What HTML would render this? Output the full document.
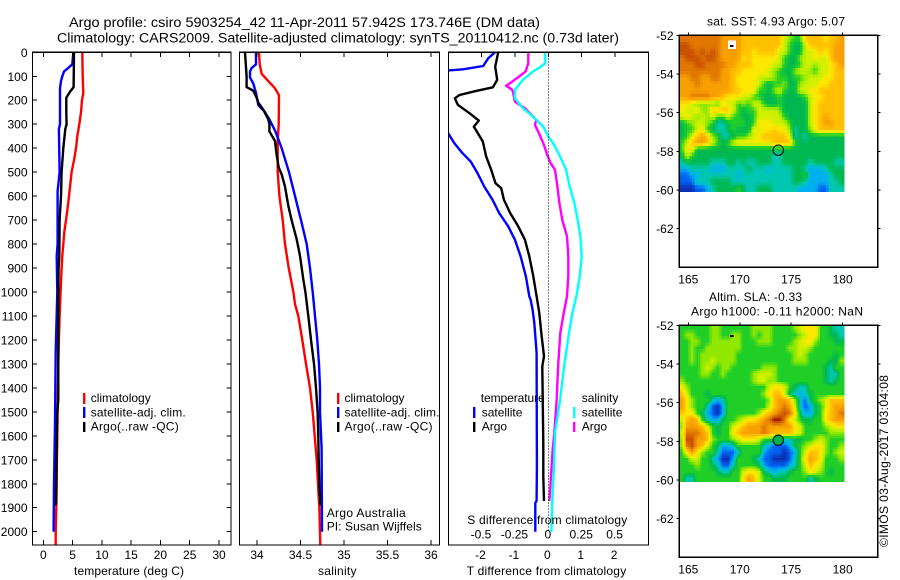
<!DOCTYPE html>
<html lang="en">
<head>
<meta charset="utf-8">
<title>Argo profile csiro 5903254_42</title>
<style>
html,body{margin:0;padding:0;background:#fff;}
svg{display:block;}
text{font-family:"Liberation Sans",sans-serif;font-size:12px;fill:#000;}
</style>
</head>
<body>
<svg id="chart" xmlns="http://www.w3.org/2000/svg" width="900" height="580" viewBox="0 0 900 580">
<defs>
<clipPath id="clip-temp"><rect x="32.5" y="52.3" width="198.5" height="492.7"/></clipPath>
<clipPath id="clip-sal"><rect x="239.5" y="52.3" width="200" height="492.7"/></clipPath>
<clipPath id="clip-diff"><rect x="448.5" y="52.3" width="200" height="492.7"/></clipPath>
</defs>
<text x="69" y="27" style="font-size:13.4px" textLength="471" lengthAdjust="spacingAndGlyphs">Argo profile: csiro 5903254_42 11-Apr-2011 57.942S 173.746E (DM data)</text>
<text x="57" y="42.5" style="font-size:13.4px" textLength="562" lengthAdjust="spacingAndGlyphs">Climatology: CARS2009. Satellite-adjusted climatology: synTS_20110412.nc (0.73d later)</text>
<g id="plots"></g>
<g id="maps"></g>

<text x="74" y="575" textLength="110">temperature (deg C)</text>
<text x="318" y="575" textLength="38.5">salinity</text>
<text x="466.7" y="575" textLength="159.5">T difference from climatology</text>
<text x="467.3" y="524" textLength="160">S difference from climatology</text>

<g>
<rect x="83" y="393" width="2.4" height="11" fill="#ff0000"/>
<rect x="83" y="407" width="2.4" height="11" fill="#0000ff"/>
<rect x="83" y="422" width="2.4" height="10" fill="#000"/>
<text x="90.7" y="402">climatology</text>
<text x="90.7" y="416.5" textLength="95">satellite-adj. clim.</text>
<text x="90.7" y="430.7" textLength="88">Argo(..raw -QC)</text>
</g>
<g>
<rect x="337" y="393" width="2.4" height="11" fill="#ff0000"/>
<rect x="337" y="407" width="2.4" height="11" fill="#0000ff"/>
<rect x="337" y="422" width="2.4" height="10" fill="#000"/>
<text x="344.5" y="402">climatology</text>
<text x="344.5" y="416.5" textLength="95">satellite-adj. clim.</text>
<text x="344.5" y="430.7" textLength="88">Argo(..raw -QC)</text>
<text x="326.7" y="517" textLength="79">Argo Australia</text>
<text x="326.7" y="530.7" textLength="95">PI: Susan Wijffels</text>
</g>
<g>
<rect x="473" y="407" width="2.4" height="11" fill="#0000ff"/>
<rect x="473" y="422" width="2.4" height="10" fill="#000"/>
<rect x="573" y="407" width="2.4" height="11" fill="#00ffff"/>
<rect x="573" y="422" width="2.4" height="10" fill="#ff00ff"/>
<text x="480.7" y="402" textLength="64">temperature</text>
<text x="481.7" y="416.5">satellite</text>
<text x="481.7" y="430.7">Argo</text>
<text x="581.7" y="402">salinity</text>
<text x="581.7" y="416.5">satellite</text>
<text x="581.7" y="430.7">Argo</text>
</g>

<text x="707" y="25.7" textLength="138">sat. SST: 4.93 Argo: 5.07</text>
<text x="709" y="301" textLength="93">Altim. SLA: -0.33</text>
<text x="691" y="315.5" textLength="172">Argo h1000: -0.11 h2000: NaN</text>
<text transform="translate(888,547) rotate(-90)" x="0" y="0" textLength="172">©IMOS 03-Aug-2017 03:04:08</text>
</svg>

<script>
// ---------- profile data (depth in dbar, values in physical units) ----------
const tempClimDepth = [0,100,170,200,250,300,350,400,450,500,550,600,650,700,750,800,850,900,1000,1100,1200,1300,1400,1500,1600,1700,1800,1900,2000,2054];
const tempClimValue = [6.66,6.72,6.83,6.60,6.43,6.15,5.80,5.58,5.24,4.84,4.61,4.38,4.15,3.87,3.59,3.41,3.24,3.13,2.96,2.79,2.67,2.56,2.50,2.45,2.39,2.33,2.28,2.22,2.11,2.11];
const tempSatDepth = [0,50,65,80,100,120,150,300,320,500,580,800,850,1000,1250,1550,1800,2000];
const tempSatValue = [5.12,4.95,4.27,3.53,3.24,3.02,2.85,2.85,2.67,2.79,2.45,2.45,2.28,2.39,2.11,1.99,1.82,1.76];
const tempArgoDepth = [0,145,165,190,250,300,320,400,500,600,700,850,900,1000,1100,1450,1500,1650,1890];
const tempArgoValue = [5.24,5.18,4.55,3.93,3.93,3.98,3.76,3.41,3.13,3.02,2.79,2.73,2.62,2.56,2.56,2.56,2.39,2.28,2.16];

const salClimDepth = [0,50,90,120,150,180,300,370,500,600,700,800,900,1000,1050,1100,1200,1300,1400,1500,1600,1700,1800,1900,2054];
const salClimValue = [34.023,34.031,34.054,34.13,34.207,34.253,34.249,34.238,34.238,34.257,34.295,34.322,34.364,34.418,34.437,34.475,34.521,34.563,34.609,34.64,34.663,34.686,34.701,34.716,34.728];
const salSatDepth = [0,50,65,80,105,130,170,220,250,280,330,400,500,600,700,800,900,1000,1100,1200,1300,1400,1500,1650,2000];
const salSatValue = [33.989,33.989,33.939,33.92,33.92,33.958,33.989,34.015,34.092,34.142,34.211,34.284,34.368,34.437,34.506,34.571,34.609,34.64,34.667,34.693,34.713,34.724,34.724,34.743,34.747];
const salArgoDepth = [0,100,145,160,190,210,240,280,300,330,370,430,480,510,560,640,700,780,850,950,1000,1100,1200,1300,1400,1500,1600,1700,1800,1890];
const salArgoValue = [33.862,33.881,33.881,33.958,33.996,34.015,34.073,34.13,34.142,34.142,34.207,34.226,34.249,34.284,34.322,34.36,34.398,34.456,34.494,34.533,34.556,34.59,34.621,34.655,34.678,34.697,34.705,34.709,34.716,34.728];

const diffTSatDepth = [0,25,57,71,76,90,150,250,337,378,421,456,504,560,615,671,726,782,851,935,1018,1032,1074,1129,1254,1726,1872,1879,2000];
const diffTSatValue = [-1.6,-1.8,-1.95,-2.55,-3.0,-3.3,-3.9,-3.7,-3.0,-2.82,-2.57,-2.32,-2.12,-1.92,-1.67,-1.47,-1.2,-1.0,-0.83,-0.67,-0.57,-0.53,-0.47,-0.42,-0.35,-0.34,-0.35,-0.39,-0.39];
const diffTArgoDepth = [0,60,115,146,161,178,192,219,254,285,310,337,372,435,490,546,567,615,671,726,782,851,935,1018,1088,1171,1268,1310,1629,1768,1872];
const diffTArgoValue = [-1.5,-1.59,-1.53,-1.66,-2.16,-2.66,-2.8,-2.71,-2.36,-2.08,-2.23,-2.11,-1.96,-1.86,-1.71,-1.58,-1.41,-1.33,-1.14,-0.9,-0.7,-0.57,-0.45,-0.35,-0.27,-0.21,-0.13,-0.18,-0.15,-0.15,-0.13];
const diffSArgoDepth = [0,46,80,108,140,154,164,206,233,268,282,303,337,386,428,463,490,560,629,699,768,851,935,1018,1088,1171,1310,1449,1588,1657,1726,1872];
const diffSArgoValue = [-0.15,-0.15,-0.17,-0.235,-0.315,-0.275,-0.265,-0.25,-0.175,-0.115,-0.09,-0.1,-0.07,-0.033,-0.008,0.018,0.05,0.068,0.083,0.105,0.14,0.15,0.15,0.14,0.115,0.09,0.073,0.063,0.045,0.033,0.025,0.008];
const diffSSatDepth = [0,46,67,80,115,157,192,233,268,310,351,386,435,490,560,629,699,768,851,935,1018,1088,1171,1310,1449,1588,1726,1872,2000];
const diffSSatValue = [-0.025,-0.023,-0.075,-0.115,-0.19,-0.25,-0.25,-0.19,-0.115,-0.038,0,0.043,0.088,0.133,0.16,0.195,0.22,0.24,0.25,0.235,0.21,0.18,0.155,0.118,0.088,0.05,0.043,0.03,0.023];

// ---------- tick labels ----------
const depthTicks = [0,100,200,300,400,500,600,700,800,900,1000,1100,1200,1300,1400,1500,1600,1700,1800,1900,2000];
const tempTicks = [0,5,10,15,20,25,30];
const salTicks = [34,34.5,35,35.5,36];
const salTickLabels = ["34","34.5","35","35.5","36"];
const diffTTicks = [-2,-1,0,1,2];
const diffSTicks = [-0.5,-0.25,0,0.25,0.5];
const diffSTickLabels = ["-0.5","-0.25","0","0.25","0.5"];
const lonTicks = [165,170,175,180];
const latTicks = [-52,-54,-56,-58,-60,-62];
const argoLon = [173.746];
const argoLat = [-57.942];
const islandLon = [169.25];
const islandLat = [-52.55];

// ---------- map grids: colour-class level per cell, north to south, 0.5 deg columns ----------
const sstLevels = [
[11,11,11,11,11,11,11,11,10,10,10,10,9,9,9,9,9,9,9,9,7,6,5,5,9,9,9,9,8,9,9,10],
[12,12,11,11,11,11,11,11,10,10,10,10,9,9,9,9,9,9,9,9,7,5,4,4,7,9,9,9,9,9,10,10],
[12,12,12,11,12,11,12,11,10,10,10,10,9,9,8,9,9,9,9,7,7,5,4,4,7,7,8,9,8,9,10,10],
[11,12,12,12,11,12,12,11,10,10,10,10,8,9,8,8,8,8,8,7,5,4,4,6,7,7,8,7,7,9,10,10],
[11,11,11,12,12,11,11,11,11,10,10,9,9,9,8,8,8,8,7,7,5,4,4,5,7,7,6,7,7,8,9,10],
[11,11,11,11,11,11,11,11,10,10,9,9,8,8,8,8,8,7,6,5,4,4,6,7,7,6,5,7,7,8,9,9],
[10,10,11,11,10,10,11,11,10,10,9,8,8,8,8,7,7,7,6,5,5,4,5,5,6,7,7,7,8,8,9,9],
[10,10,10,11,10,10,10,10,10,10,9,8,8,8,8,7,5,4,5,5,6,4,4,6,7,7,7,8,8,9,9,9],
[10,10,10,10,10,10,10,10,10,10,9,9,8,8,8,5,5,4,6,7,5,4,4,7,7,8,8,9,9,9,9,9],
[10,10,11,11,11,11,10,10,9,8,8,8,7,7,5,5,4,4,4,5,4,4,4,4,5,7,8,8,9,9,9,9],
[8,8,7,6,6,6,6,5,8,7,7,5,6,5,7,7,5,4,4,5,4,4,4,4,4,7,8,9,9,9,9,9],
[8,7,7,8,6,6,9,9,9,9,7,5,4,5,5,7,7,7,7,6,4,4,4,4,4,7,8,9,9,9,9,9],
[7,8,7,6,7,6,7,5,5,7,5,5,4,4,5,7,7,7,7,7,5,4,4,4,4,7,8,9,10,9,9,9],
[4,5,6,7,7,6,5,3,3,4,5,5,5,4,5,8,8,8,7,7,7,5,4,4,4,7,8,9,10,10,9,9],
[4,5,5,7,8,5,4,3,3,4,5,4,4,4,8,7,8,8,9,8,8,6,3,4,4,6,8,9,9,9,9,9],
[4,5,7,9,10,9,6,5,3,3,4,5,5,6,7,8,9,9,9,9,9,7,3,4,3,4,4,4,4,4,4,4],
[5,7,9,10,10,9,7,5,4,5,7,8,8,8,8,8,8,8,9,9,9,9,5,4,4,4,4,4,4,4,4,4],
[5,8,8,4,4,4,4,4,4,4,4,4,4,4,4,4,4,4,4,4,4,4,4,4,4,4,4,4,4,4,4,4],
[4,7,5,4,4,4,4,4,4,4,4,4,4,4,4,4,4,4,3,3,4,4,4,4,4,4,4,4,4,4,4,4],
[3,4,4,4,4,4,3,3,3,4,4,3,4,3,3,4,4,4,3,3,4,4,4,4,4,3,4,4,4,4,3,3],
[2,2,3,3,3,3,2,2,2,3,3,3,3,4,3,3,3,2,3,3,3,3,4,4,3,2,2,2,3,4,4,4],
[1,1,2,2,3,3,3,3,3,3,3,2,3,3,3,3,3,3,3,3,3,3,4,4,5,2,2,2,2,3,4,4],
[1,1,1,3,3,3,4,4,4,4,3,3,3,3,3,3,3,3,3,3,3,3,4,4,3,2,2,2,2,3,3,4],
[0,0,0,1,1,2,3,4,4,4,4,5,4,3,3,4,4,4,3,3,3,3,3,2,2,2,2,1,1,3,3,3]
];
const slaLevels = [
[5,5,5,5,5,5,6,6,5,5,5,5,5,5,6,6,6,6,5,5,5,5,6,7,8,8,8,5,5,4,3,3],
[5,6,6,5,5,5,6,6,5,5,6,6,5,5,6,5,6,6,5,5,5,5,5,6,7,8,8,5,5,4,4,3],
[5,5,6,6,5,5,6,6,6,6,6,6,5,5,5,6,6,6,5,5,5,5,6,7,8,8,6,5,5,5,4,4],
[5,5,6,5,5,6,6,6,6,6,6,6,5,5,5,5,5,5,5,5,5,6,6,7,7,6,5,5,5,5,5,5],
[5,5,6,5,6,6,6,6,6,6,6,5,5,5,5,5,5,5,5,5,5,5,6,7,6,5,5,5,5,5,4,5],
[5,5,6,5,6,6,7,6,6,6,6,5,5,5,5,5,5,5,5,5,5,5,6,6,6,5,5,5,5,4,4,6],
[5,5,5,5,6,7,6,5,6,6,5,5,5,5,5,5,6,6,6,5,5,5,5,5,5,5,5,5,4,3,5,5],
[5,5,5,5,6,6,5,5,6,5,5,5,5,5,6,7,7,7,6,5,5,5,5,5,5,5,5,5,4,3,3,5],
[6,5,5,5,5,5,5,5,5,5,5,5,5,5,6,7,7,6,6,5,5,5,5,5,5,5,5,5,4,3,4,5],
[8,6,5,5,5,5,5,5,5,5,5,5,5,5,5,5,5,7,8,8,7,5,4,3,3,5,5,5,5,5,5,5],
[9,7,5,5,5,4,5,5,5,5,5,5,5,5,5,5,6,8,9,9,7,4,3,2,3,4,5,5,5,5,5,5],
[10,8,6,5,5,5,3,2,3,5,5,5,5,5,5,5,5,6,9,10,10,9,6,3,1,4,5,6,7,9,9,9],
[10,8,6,5,5,3,1,0,2,5,5,5,5,5,5,5,5,7,9,10,11,10,7,3,1,2,4,5,7,9,10,10],
[9,8,8,5,4,2,1,0,2,5,5,5,5,5,5,6,8,9,10,11,12,11,8,4,2,2,4,5,8,9,10,11],
[7,9,10,9,5,3,2,2,4,5,5,6,7,8,8,9,10,11,13,13,11,8,7,5,4,4,5,5,8,9,10,10],
[6,10,10,10,9,7,5,4,5,5,7,8,9,10,10,10,11,10,10,10,10,10,8,7,5,5,5,5,6,7,8,8],
[7,11,11,11,10,9,5,4,5,5,8,9,10,10,10,10,11,10,9,9,9,9,8,7,5,5,5,5,5,6,6,6],
[6,12,12,10,10,9,6,5,5,5,6,7,8,8,8,7,5,5,5,4,3,3,4,4,5,5,6,7,6,5,5,5],
[6,11,12,10,9,7,5,4,2,2,3,5,5,5,5,5,3,2,1,1,1,2,4,5,6,7,8,8,6,5,5,6],
[5,8,10,8,6,5,5,3,1,1,1,3,5,5,5,5,2,1,1,1,0,1,2,5,7,9,9,8,6,5,6,7],
[5,5,7,7,5,5,3,2,0,0,2,5,5,5,4,3,1,1,0,0,0,1,3,5,8,10,9,8,5,5,5,6],
[5,5,5,6,5,5,4,3,1,1,3,5,5,5,5,4,2,1,1,1,1,2,3,5,7,9,8,7,5,5,5,5],
[5,5,5,5,5,5,5,4,3,3,5,5,7,8,8,7,4,3,2,3,3,4,5,5,6,8,7,6,5,4,5,5],
[5,3,3,5,5,5,5,5,5,5,5,5,8,10,9,7,5,5,4,4,4,5,5,5,5,3,4,5,5,5,5,5]
];

// ---------- style / scale helpers ----------
const NS = "http://www.w3.org/2000/svg";
const levelRGB = [[10,47,176],[0,96,240],[0,176,240],[0,200,176],[0,184,80],[32,206,40],[144,232,0],[208,240,0],[255,232,0],[255,192,0],[248,160,0],[224,120,0],[200,80,0],[160,32,0]];
const plots = document.getElementById("plots");
const maps = document.getElementById("maps");

function depthY(d){ return 52.3 + d * 0.2397; }
function tempX(t){ return 43.3 + t * 5.857; }
function salX(s){ return 257 + (s - 34) * 87; }
function diffTX(t){ return 548.3 + t * 33.4; }
function diffSX(s){ return 548.3 + s * 133.6; }
function lonX(lon){ return 688.3 + (lon - 165) * 10.29; }

function levelColour(v){
  const lo = Math.max(0, Math.min(levelRGB.length - 2, Math.floor(v)));
  const t = Math.max(0, Math.min(1, v - lo));
  const a = levelRGB[lo], b = levelRGB[lo + 1];
  return "rgb(" + Math.round(a[0] + (b[0] - a[0]) * t) + "," + Math.round(a[1] + (b[1] - a[1]) * t) + "," + Math.round(a[2] + (b[2] - a[2]) * t) + ")";
}
function sampleGrid(grid, rf, cf){
  const rMax = grid.length - 1, cMax = grid[0].length - 1;
  const r = Math.max(0, Math.min(rMax, rf)), c = Math.max(0, Math.min(cMax, cf));
  const r0 = Math.floor(r), c0 = Math.floor(c);
  const r1 = Math.min(rMax, r0 + 1), c1 = Math.min(cMax, c0 + 1);
  const u = c - c0, v = r - r0;
  return (grid[r0][c0] * (1 - u) + grid[r0][c1] * u) * (1 - v) + (grid[r1][c0] * (1 - u) + grid[r1][c1] * u) * v;
}

function makeEl(tag, parent, attrs){
  const el = document.createElementNS(NS, tag);
  for (const k in attrs) el.setAttribute(k, attrs[k]);
  parent.appendChild(el);
  return el;
}

function drawBox(parent, x, y, w, h){
  const el = makeEl("rect", parent, {x:x, y:y, width:w, height:h, fill:"none", stroke:"#000", "stroke-width":1.2, "shape-rendering":"crispEdges"});
  
  
}
function drawTick(parent, x1, y1, x2, y2){
  const el = makeEl("line", parent, {x1:x1, y1:y1, x2:x2, y2:y2, stroke:"#000", "stroke-width":1, "shape-rendering":"crispEdges"});
  
  
}
function drawLabel(parent, x, y, anchor, str){
  const el = makeEl("text", parent, {x:x, y:y, "text-anchor":anchor});
  
  
  el.textContent = str;
}
function drawProfile(parent, seriesName, depths, values, xFn, colour, width, clip){
  const pts = depths.map(function(d, i){ return xFn(values[i]).toFixed(1) + "," + depthY(d).toFixed(1); }).join(" ");
  const el = makeEl("polyline", parent, {points:pts, fill:"none", stroke:colour, "stroke-width":width, "stroke-linejoin":"round", "clip-path":"url(#" + clip + ")"});
  
  
}

// ---------- profile panels ----------
drawProfile(plots, 'temperature-climatology-line', tempClimDepth, tempClimValue, tempX, "#ff0000", 2.4, "clip-temp");
drawProfile(plots, 'temperature-satellite-line', tempSatDepth, tempSatValue, tempX, "#0000ff", 2.4, "clip-temp");
drawProfile(plots, 'temperature-argo-line', tempArgoDepth, tempArgoValue, tempX, "#000000", 2.4, "clip-temp");

drawProfile(plots, 'salinity-climatology-line', salClimDepth, salClimValue, salX, "#ff0000", 2.4, "clip-sal");
drawProfile(plots, 'salinity-satellite-line', salSatDepth, salSatValue, salX, "#0000ff", 2.4, "clip-sal");
drawProfile(plots, 'salinity-argo-line', salArgoDepth, salArgoValue, salX, "#000000", 2.4, "clip-sal");

drawProfile(plots, 't-difference-satellite-line', diffTSatDepth, diffTSatValue, diffTX, "#0000ff", 2.4, "clip-diff");
drawProfile(plots, 't-difference-argo-line', diffTArgoDepth, diffTArgoValue, diffTX, "#000000", 2.4, "clip-diff");
drawProfile(plots, 's-difference-argo-line', diffSArgoDepth, diffSArgoValue, diffSX, "#ff00ff", 2.4, "clip-diff");
drawProfile(plots, 's-difference-satellite-line', diffSSatDepth, diffSSatValue, diffSX, "#00ffff", 2.4, "clip-diff");

const zeroLine = makeEl("line", plots, {x1:diffTX(0), y1:52.3, x2:diffTX(0), y2:532, stroke:"#000", "stroke-width":1, "stroke-dasharray":"1 2", "shape-rendering":"crispEdges"});



drawBox(plots, 32.5, 52.3, 198.5, 492.7);
drawBox(plots, 239.5, 52.3, 200, 492.7);
drawBox(plots, 448.5, 52.3, 200, 492.7);

depthTicks.forEach(function(d){
  const y = depthY(d);
  drawTick(plots, 32.5, y, 37, y);
  drawTick(plots, 226.5, y, 231, y);
  drawLabel(plots, 27.5, y + 4.5, "end", String(d));
});
tempTicks.forEach(function(t){
  const x = tempX(t);
  drawTick(plots, x, 52.3, x, 57);
  drawTick(plots, x, 540, x, 545);
  drawLabel(plots, x, 559, "middle", String(t));
});
salTicks.forEach(function(s, i){
  const x = salX(s);
  drawTick(plots, x, 52.3, x, 57);
  drawTick(plots, x, 540, x, 545);
  drawLabel(plots, x, 559, "middle", salTickLabels[i]);
});
diffTTicks.forEach(function(t){
  const x = diffTX(t);
  drawTick(plots, x, 52.3, x, 57);
  drawLabel(plots, x - 1, 559, "middle", String(t));
});
diffSTicks.forEach(function(s, i){
  drawLabel(plots, diffSX(s) - 0.5, 538.3, "middle", diffSTickLabels[i]);
});

// ---------- maps ----------
function drawMap(top, levels, markerFill, sub){
  const latY = function(lat){ return top + (-52 - lat) * 19.34; };
  const rowStep = 8.09 / levels.length;
  const colStep = 0.5;
  const rows = levels.length, cols = levels[0].length;
  for (let r = 0; r < rows * sub; r++){
    for (let c = 0; c < cols * sub; c++){
      const lonW = 164.12 + (c / sub) * colStep;
      const latN = -52 - (r / sub) * rowStep;
      const x0 = lonX(lonW), x1 = lonX(lonW + colStep / sub);
      const y0 = latY(latN), y1 = latY(latN - rowStep / sub);
      const level = sampleGrid(levels, (r + 0.5) / sub - 0.5, (c + 0.5) / sub - 0.5);
      const cell = makeEl("rect", maps, {x:x0, y:y0, width:x1 - x0 + 0.4, height:y1 - y0 + 0.4, fill:levelColour(level), "shape-rendering":"crispEdges"});
      
      
    }
  }
  drawBox(maps, 679.3, top, 198.4, 232);
  lonTicks.forEach(function(lon){
    const x = lonX(lon);
    drawTick(maps, x, top - 3, x, top);
    drawLabel(maps, x, top + 248, "middle", String(lon));
  });
  latTicks.forEach(function(lat){
    const y = latY(lat);
    drawTick(maps, 676.5, y, 679.3, y);
    drawTick(maps, 877.7, y, 880.3, y);
    drawLabel(maps, 673.5, y + 4.5, "end", String(lat));
  });
  const island = makeEl("rect", maps, {x:lonX(islandLon[0]) - 2, y:latY(islandLat[0]) - 1, width:3.5, height:2.2, fill:"#000", "shape-rendering":"crispEdges"});
  
  
  const marker = makeEl("circle", maps, {cx:lonX(argoLon[0]), cy:latY(argoLat[0]), r:5.2, fill:markerFill, stroke:"#000", "stroke-width":1});
  
  
}
drawMap(35.3, sstLevels, "none", 2);
const sstGap = makeEl("rect", maps, {x:lonX(islandLon[0]) - 4, y:40.7, width:8, height:8.3, fill:"#fff", "shape-rendering":"crispEdges"});


const sstIsland = makeEl("rect", maps, {x:lonX(islandLon[0]) - 2, y:45, width:3.5, height:2.2, fill:"#000", "shape-rendering":"crispEdges"});


drawMap(325.3, slaLevels, "#00b050", 3);
</script>
</body>
</html>
